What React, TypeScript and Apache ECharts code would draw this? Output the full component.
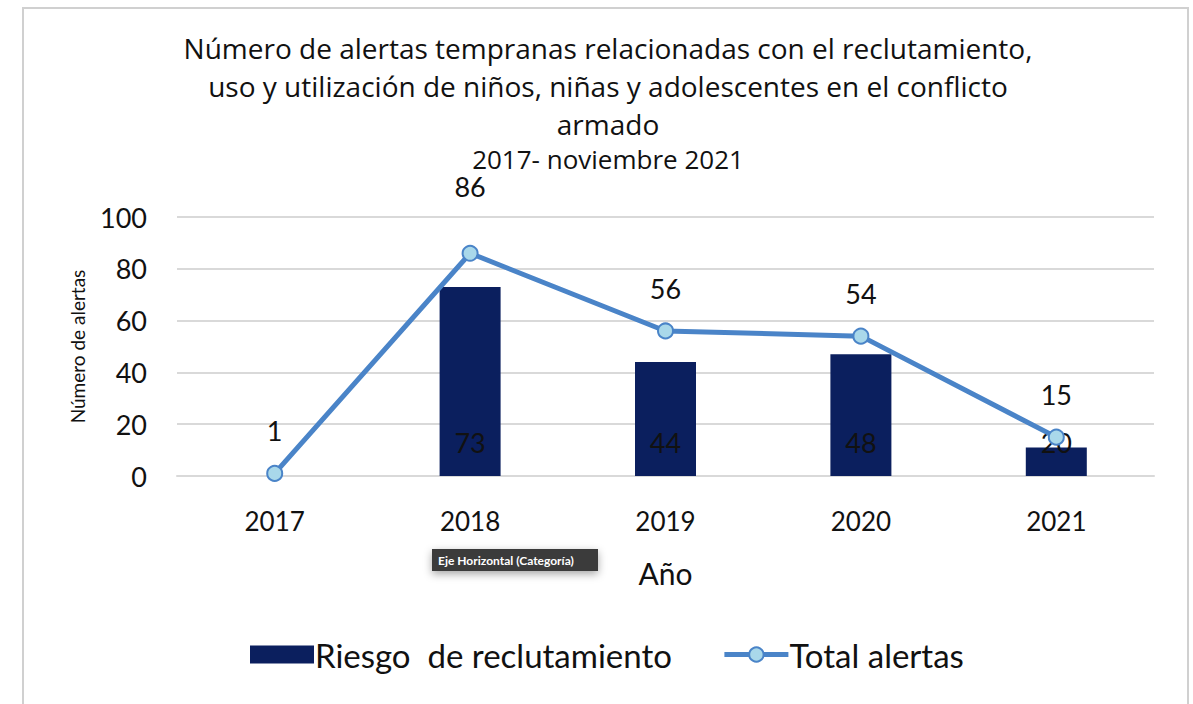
import React, { useEffect, useRef } from "react";
import * as echarts from "echarts";

const titleLines = [
  "Número de alertas tempranas relacionadas con el reclutamiento,",
  "uso y utilización de niños, niñas y adolescentes en el conflicto",
  "armado",
  "2017- noviembre 2021",
];
const years = ["2017", "2018", "2019", "2020", "2021"];
const riesgoValues = [null, 73, 44, 47, 11];
const riesgoLabels = ["", "73", "44", "48", "20"];
const totalValues = [1, 86, 56, 54, 15];
const totalLabelDistance = [22, 46, 22, 22, 22];
const yTicks = { min: 0, max: 100, interval: 20 };
const seriesNames = ["Riesgo  de reclutamiento", "Total alertas"];

const FONT = "Lato, 'Noto Sans', sans-serif";
const TFONT = "'Open Sans', 'Noto Sans', sans-serif";
const titleCenters = [48, 86, 124, 159];
const titleSizes = [28, 28, 28, 26];

export default function App() {
  const ref = useRef<HTMLDivElement>(null);
  useEffect(() => {
    if (!ref.current) return;
    const chart = echarts.init(ref.current, undefined, { renderer: "svg" });
    chart.setOption({
      animation: false,
      backgroundColor: "#ffffff",
      textStyle: { fontFamily: FONT },
      title: titleLines.map((t, i) => ({
        text: t,
        left: 608,
        textAlign: "center",
        top: titleCenters[i] - 12,
        padding: 0,
        textStyle: {
          fontFamily: TFONT,
          fontSize: titleSizes[i],
          fontWeight: "normal",
          color: "#111",
          lineHeight: 24,
        },
      })),
      grid: { left: 177, right: 39, top: 217, bottom: 228 },
      legend: {
        bottom: 28,
        left: 245,
        itemWidth: 64,
        itemHeight: 18,
        itemGap: 50,
        textStyle: { fontFamily: FONT, fontSize: 33, color: "#111", padding: [0, 0, 0, -4] },
        data: [
          { name: seriesNames[0], icon: "rect" },
          { name: seriesNames[1], lineStyle: { width: 5 } },
        ],
      },
      xAxis: {
        type: "category",
        data: years,
        name: "Año",
        nameLocation: "middle",
        nameGap: 82,
        nameTextStyle: { fontFamily: FONT, fontSize: 30, color: "#111" },
        axisLine: { show: true, lineStyle: { color: "#d9d9d9", width: 2 } },
        axisTick: { show: false },
        axisLabel: { fontFamily: FONT, fontSize: 26, color: "#111", margin: 32 },
      },
      yAxis: {
        type: "value",
        min: yTicks.min,
        max: yTicks.max,
        interval: yTicks.interval,
        name: "Número de alertas",
        nameLocation: "middle",
        nameGap: 90,
        nameTextStyle: { fontFamily: FONT, fontSize: 19, color: "#111" },
        axisLine: { show: false },
        axisTick: { show: false },
        axisLabel: { fontFamily: FONT, fontSize: 27, color: "#111", margin: 30 },
        splitLine: { lineStyle: { color: "#d9d9d9", width: 2 } },
      },
      series: [
        {
          name: seriesNames[0],
          type: "bar",
          data: riesgoValues,
          barWidth: 61,
          itemStyle: { color: "#0b1f5e" },
          label: {
            show: true,
            position: "insideBottom",
            distance: 20,
            fontFamily: FONT,
            fontSize: 27,
            color: "#111",
            formatter: (p: any) => riesgoLabels[p.dataIndex],
          },
        },
        {
          name: seriesNames[1],
          type: "line",
          data: totalValues.map((v, i) => ({
            value: v,
            label: { distance: totalLabelDistance[i] },
          })),
          symbol: "circle",
          symbolSize: 15,
          lineStyle: { color: "#4a84c8", width: 5 },
          itemStyle: { color: "#a9d8ea", borderColor: "#4a84c8", borderWidth: 2 },
          label: {
            show: true,
            position: "top",
            fontFamily: FONT,
            fontSize: 27,
            lineHeight: 24,
            color: "#111",
          },
          z: 5,
        },
      ],
      graphic: [
        {
          type: "rect",
          shape: { x: 23, y: 8, width: 1165, height: 720 },
          style: { fill: "none", stroke: "#d0d0d0", lineWidth: 2 },
          silent: true,
        },
        {
          type: "rect",
          shape: { x: 432, y: 549, width: 166, height: 22 },
          style: {
            fill: "#3a3a3a",
            shadowBlur: 8,
            shadowColor: "rgba(0,0,0,0.35)",
            shadowOffsetY: 3,
          },
          z: 100,
        },
        {
          type: "text",
          x: 438,
          y: 560,
          style: {
            text: "Eje Horizontal (Categoría)",
            fill: "#ffffff",
            fontSize: 12,
            fontWeight: "bold",
            fontFamily: FONT,
            verticalAlign: "middle",
          },
          z: 101,
        },
      ],
    });
    return () => chart.dispose();
  }, []);
  return (
    <div
      ref={ref}
      style={{ position: "absolute", left: 0, top: 0, width: 1193, height: 704 }}
    />
  );
}
